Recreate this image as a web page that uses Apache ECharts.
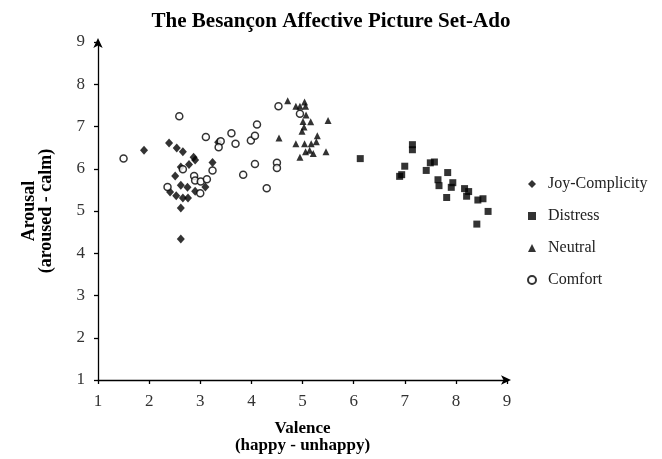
<!DOCTYPE html>
<html>
<head>
<meta charset="utf-8">
<script src="https://cdn.jsdelivr.net/npm/echarts@6/dist/echarts.min.js"></script>
<style>html,body{margin:0;padding:0;background:#fff}#c{width:662px;height:459px}</style>
</head>
<body>
<div id="c"></div>
<script>
const titleText = 'The Besançon Affective Picture Set-Ado';
const xName = 'Valence\n(happy - unhappy)';
const yName = 'Arousal\n(aroused - calm)';
const seriesNames = ['Joy-Complicity', 'Distress', 'Neutral', 'Comfort'];

const joyComplicity = [
  [1.90,6.44],[2.39,6.61],[2.54,6.49],[2.66,6.40],[2.87,6.27],[2.90,6.21],[2.78,6.10],
  [3.24,6.15],[2.62,6.04],[2.51,5.83],[2.62,5.61],[2.75,5.56],[2.90,5.47],[3.10,5.57],
  [2.41,5.45],[2.53,5.36],[2.66,5.31],[2.76,5.31],[2.62,5.07],[2.62,4.34],[3.35,6.63]
];
const distress = [
  [6.13,6.24],[7.15,6.57],[7.15,6.45],[7.00,6.06],[6.90,5.82],[6.94,5.86],[7.50,6.14],
  [7.58,6.16],[7.42,5.96],[7.84,5.91],[7.65,5.74],[7.67,5.60],[7.94,5.67],[7.91,5.56],
  [7.82,5.32],[8.17,5.53],[8.25,5.46],[8.21,5.35],[8.43,5.26],[8.53,5.29],[8.63,4.99],[8.41,4.69]
];
const neutral = [
  [4.71,7.61],[4.87,7.48],[4.95,7.48],[5.04,7.58],[5.06,7.48],[5.07,7.27],[5.01,7.12],
  [5.16,7.11],[5.50,7.14],[5.03,6.99],[4.99,6.89],[4.54,6.73],[5.29,6.78],[5.27,6.64],
  [4.87,6.59],[5.04,6.59],[5.17,6.59],[5.06,6.40],[5.14,6.44],[5.21,6.36],[5.46,6.40],[4.95,6.27]
];
const comfort = [
  [1.50,6.24],[2.36,5.57],[2.59,7.24],[2.66,5.99],[2.88,5.83],[2.90,5.72],[3.01,5.70],
  [3.00,5.42],[3.13,5.75],[3.24,5.96],[3.11,6.75],[3.40,6.65],[3.36,6.51],[3.61,6.84],
  [3.69,6.59],[3.99,6.67],[4.07,6.78],[4.11,7.05],[4.07,6.11],[3.84,5.86],[4.30,5.54],
  [4.50,6.14],[4.50,6.02],[4.53,7.48],[4.95,7.30]
];
const axisTicks = [1, 2, 3, 4, 5, 6, 7, 8, 9];

const serif = 'Liberation Serif';
const chart = echarts.init(document.getElementById('c'), null, {renderer: 'canvas'});
const axisCommon = {
  type: 'value', min: axisTicks[0], max: axisTicks[axisTicks.length - 1], interval: 1,
  splitLine: {show: false},
  axisLine: {show: true, lineStyle: {color: '#000', width: 1.3}, symbol: ['none', 'arrow'], symbolSize: [7, 10], symbolOffset: [0, 4]},
  axisTick: {show: true, length: 4, lineStyle: {color: '#000', width: 1.3}},
  axisLabel: {fontFamily: serif, fontSize: 17, color: '#333', margin: 13},
  nameLocation: 'middle',
  nameTextStyle: {fontFamily: serif, fontSize: 17, fontWeight: 'bold', color: '#000', lineHeight: 17}
};
chart.setOption({
  animation: false,
  backgroundColor: '#fff',
  title: {text: titleText, left: 'center', top: 6,
    textStyle: {fontFamily: serif, fontSize: 21, fontWeight: 'bold', color: '#000'}},
  legend: {
    orient: 'vertical', left: 522, top: 171, itemGap: 16, itemWidth: 8, itemHeight: 8,
    textStyle: {fontFamily: serif, fontSize: 16, color: '#222', padding: [0, 0, 0, 7]},
    data: seriesNames
  },
  grid: {left: 98, right: 155, top: 42, bottom: 76},
  xAxis: Object.assign({}, axisCommon, {name: xName, nameGap: 40}),
  yAxis: Object.assign({}, axisCommon, {name: yName, nameGap: 43,
    nameTextStyle: {fontFamily: serif, fontSize: 18, fontWeight: 'bold', color: '#000', lineHeight: 17}}),
  series: [
    {name: seriesNames[0], type: 'scatter', data: joyComplicity, symbol: 'diamond', symbolSize: [8, 9],
      itemStyle: {color: '#000'}},
    {name: seriesNames[1], type: 'scatter', data: distress, symbol: 'rect', symbolSize: 7,
      itemStyle: {color: '#000'}},
    {name: seriesNames[2], type: 'scatter', data: neutral, symbol: 'triangle', symbolSize: 7,
      itemStyle: {color: '#000'}},
    {name: seriesNames[3], type: 'scatter', data: comfort, symbol: 'circle', symbolSize: 7,
      itemStyle: {color: '#fff', borderColor: '#000', borderWidth: 1.5}}
  ]
});
</script>
</body>
</html>
